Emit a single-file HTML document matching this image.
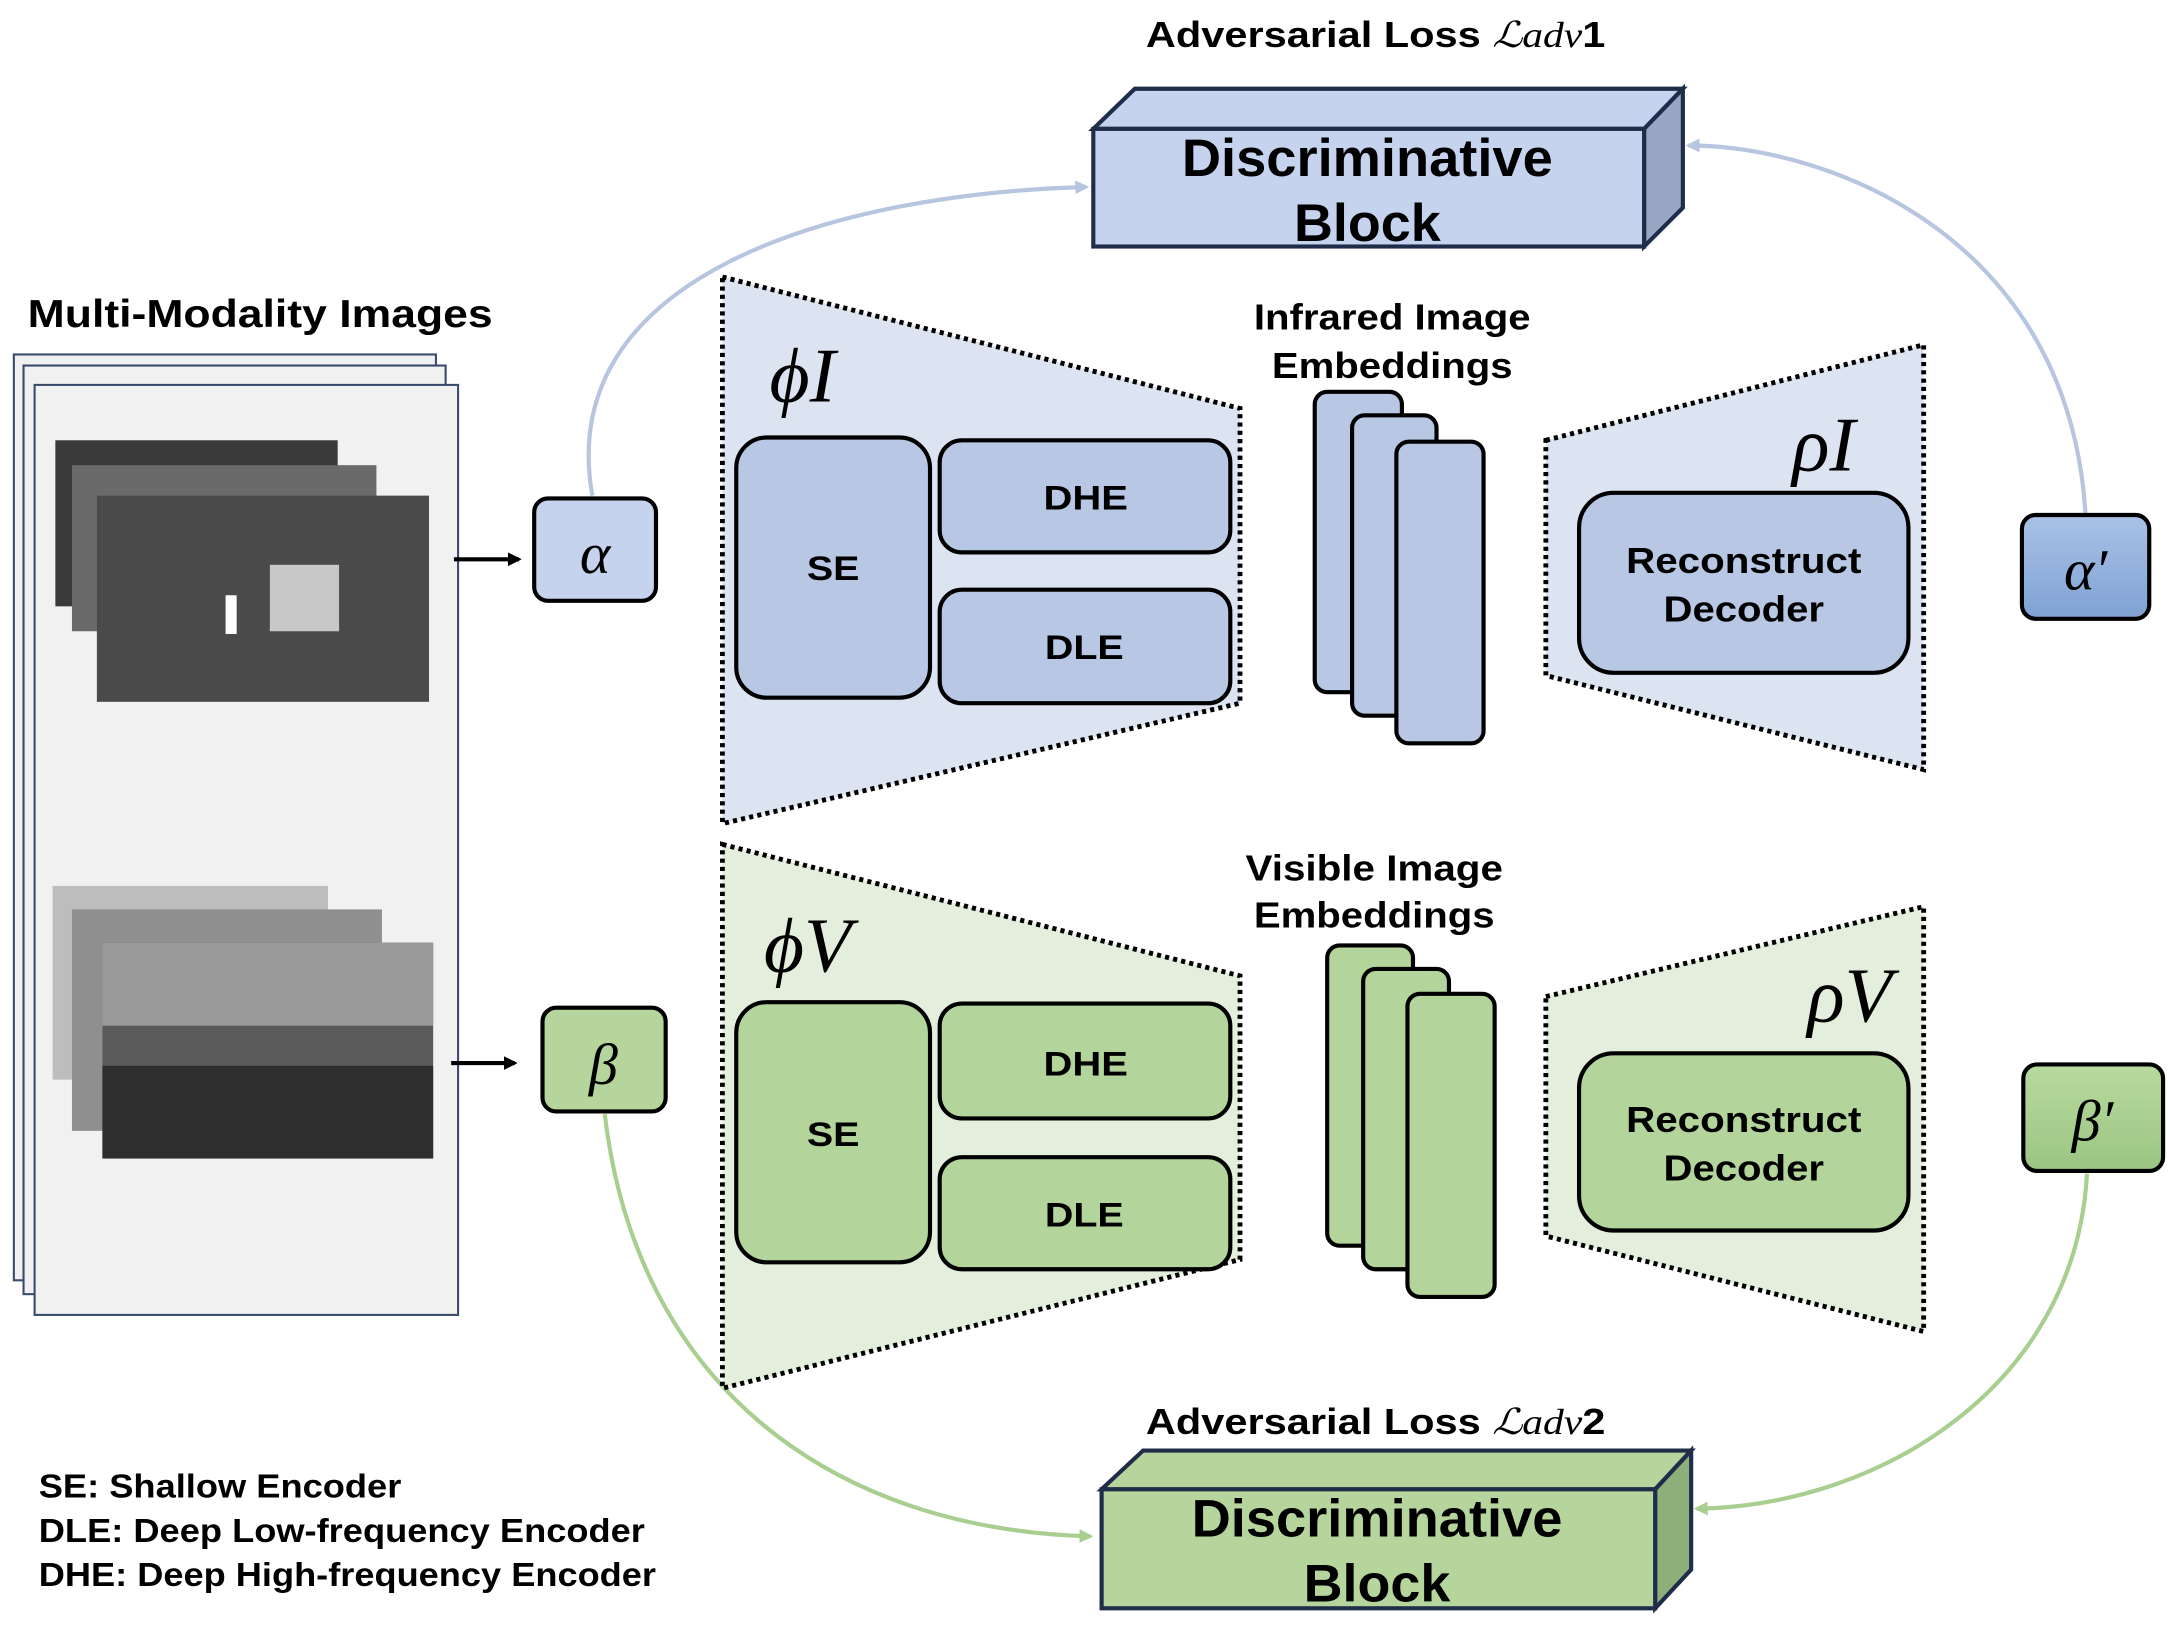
<!DOCTYPE html>
<html><head><meta charset="utf-8"><style>
html,body{margin:0;padding:0;background:#fff;}
svg{display:block;}
.b{font-family:"Liberation Sans",sans-serif;font-weight:bold;fill:#000;}
.m{font-family:"Liberation Serif","DejaVu Serif",serif;font-style:italic;fill:#000;}
</style></head><body>
<svg width="2170" height="1650" viewBox="0 0 1568 1192" xmlns="http://www.w3.org/2000/svg">
<defs>
<marker id="ab" markerWidth="10" markerHeight="10" refX="8" refY="5" orient="auto" markerUnits="userSpaceOnUse"><path d="M0,0 L10,5 L0,10 z" fill="#b7c5e0"/></marker>
<marker id="ag" markerWidth="10" markerHeight="10" refX="8" refY="5" orient="auto" markerUnits="userSpaceOnUse"><path d="M0,0 L10,5 L0,10 z" fill="#a8cf90"/></marker>
<marker id="ak" markerWidth="10" markerHeight="10" refX="8" refY="5" orient="auto" markerUnits="userSpaceOnUse"><path d="M0,0 L10,5 L0,10 z" fill="#000"/></marker>
<linearGradient id="ga" x1="0" y1="0" x2="0" y2="1"><stop offset="0" stop-color="#a9c2e6"/><stop offset="1" stop-color="#7fa2d4"/></linearGradient>
<linearGradient id="gb" x1="0" y1="0" x2="0" y2="1"><stop offset="0" stop-color="#b8da9f"/><stop offset="1" stop-color="#9bc582"/></linearGradient>
</defs>
<rect width="1568" height="1192" fill="#fff"/>

<path d="M428,358 C400,200 600,140 785,135" fill="none" stroke="#b7c5e0" stroke-width="3" marker-end="url(#ab)"/>
<path d="M1507,372 C1495,170 1320,105 1220,105" fill="none" stroke="#b7c5e0" stroke-width="3" marker-end="url(#ab)"/>
<path d="M437,805 C460,1000 600,1105 788,1110" fill="none" stroke="#a8cf90" stroke-width="3" marker-end="url(#ag)"/>
<path d="M1508,848 C1500,1000 1360,1088 1226,1090" fill="none" stroke="#a8cf90" stroke-width="3" marker-end="url(#ag)"/>

<text x="828" y="34" class="b" font-size="26" textLength="332" lengthAdjust="spacingAndGlyphs">Adversarial Loss <tspan class="m" font-weight="normal">ℒadv</tspan>1</text>
<polygon points="790,93 820,64 1216,64 1188,93" fill="#c5d3ee" stroke="#1f2d4a" stroke-width="3"/>
<polygon points="1188,93 1216,64 1216,150 1188,178" fill="#9aa7c4" stroke="#1f2d4a" stroke-width="3"/>
<rect x="790" y="93" width="398" height="85" fill="#c5d3ee" stroke="#1f2d4a" stroke-width="3"/>
<text x="854" y="127" class="b" font-size="38" textLength="268" lengthAdjust="spacingAndGlyphs">Discriminative</text>
<text x="935" y="174" class="b" font-size="38" textLength="106" lengthAdjust="spacingAndGlyphs">Block</text>

<text x="828" y="1036" class="b" font-size="26" textLength="332" lengthAdjust="spacingAndGlyphs">Adversarial Loss <tspan class="m" font-weight="normal">ℒadv</tspan>2</text>
<polygon points="796,1076 826,1048 1222,1048 1196,1076" fill="#b5d59d" stroke="#1f2d4a" stroke-width="3"/>
<polygon points="1196,1076 1222,1048 1222,1134 1196,1162" fill="#8db07a" stroke="#1f2d4a" stroke-width="3"/>
<rect x="796" y="1076" width="400" height="86" fill="#b5d59d" stroke="#1f2d4a" stroke-width="3"/>
<text x="861" y="1110" class="b" font-size="38" textLength="268" lengthAdjust="spacingAndGlyphs">Discriminative</text>
<text x="942" y="1157" class="b" font-size="38" textLength="106" lengthAdjust="spacingAndGlyphs">Block</text>

<text x="20" y="236" class="b" font-size="28" textLength="336" lengthAdjust="spacingAndGlyphs">Multi-Modality Images</text>
<rect x="10" y="256" width="305" height="669" fill="#f1f1f1" stroke="#3a4a6a" stroke-width="1.5"/>
<rect x="17" y="264" width="305" height="671" fill="#f1f1f1" stroke="#3a4a6a" stroke-width="1.5"/>
<rect x="25" y="278" width="306" height="672" fill="#f1f1f1" stroke="#3a4a6a" stroke-width="1.5"/>
<rect x="40" y="318" width="204" height="120" fill="#3a3a3a"/>
<rect x="52" y="336" width="220" height="120" fill="#6a6a6a"/>
<rect x="70" y="358" width="240" height="149" fill="#4a4a4a"/>
<rect x="195" y="408" width="50" height="48" fill="#c8c8c8"/>
<rect x="163" y="430" width="8" height="28" fill="#fff"/>
<rect x="38" y="640" width="199" height="140" fill="#bdbdbd"/>
<rect x="52" y="657" width="224" height="160" fill="#8f8f8f"/>
<rect x="74" y="681" width="239" height="156" fill="#5a5a5a"/>
<rect x="74" y="681" width="239" height="60" fill="#9a9a9a"/>
<rect x="74" y="770" width="239" height="67" fill="#2e2e2e"/>
<line x1="328" y1="404" x2="375" y2="404" stroke="#000" stroke-width="3" marker-end="url(#ak)"/>
<line x1="326" y1="768" x2="372" y2="768" stroke="#000" stroke-width="3" marker-end="url(#ak)"/>

<rect x="386" y="360" width="88" height="74" rx="10" fill="#c5d3ee" stroke="#000" stroke-width="3"/>
<text x="430" y="414" text-anchor="middle" class="m" font-size="42">α</text>
<rect x="392" y="728" width="89" height="75" rx="10" fill="#b5d59d" stroke="#000" stroke-width="3"/>
<text x="436" y="783" text-anchor="middle" class="m" font-size="42">β</text>
<rect x="1461" y="372" width="92" height="75" rx="10" fill="url(#ga)" stroke="#000" stroke-width="3"/>
<text x="1507" y="426" text-anchor="middle" class="m" font-size="42">α′</text>
<rect x="1462" y="769" width="101" height="77" rx="10" fill="url(#gb)" stroke="#000" stroke-width="3"/>
<text x="1512" y="824" text-anchor="middle" class="m" font-size="42">β′</text>

<polygon points="522,200 896,295 896,508 522,595" fill="#dde4f1" stroke="#000" stroke-width="3.5" stroke-dasharray="3,3"/>
<text x="556" y="290" class="m" font-size="56">ϕI</text>
<rect x="532" y="316" width="140" height="188" rx="22" fill="#b8c7e4" stroke="#000" stroke-width="3"/>
<text x="583" y="419" class="b" font-size="25" textLength="38" lengthAdjust="spacingAndGlyphs">SE</text>
<rect x="679" y="318" width="210" height="81" rx="16" fill="#b8c7e4" stroke="#000" stroke-width="3"/>
<text x="754" y="368" class="b" font-size="25" textLength="61" lengthAdjust="spacingAndGlyphs">DHE</text>
<rect x="679" y="426" width="210" height="82" rx="16" fill="#b8c7e4" stroke="#000" stroke-width="3"/>
<text x="755" y="476" class="b" font-size="25" textLength="57" lengthAdjust="spacingAndGlyphs">DLE</text>

<text x="906" y="238" class="b" font-size="26" textLength="200" lengthAdjust="spacingAndGlyphs">Infrared Image</text>
<text x="919" y="273" class="b" font-size="26" textLength="174" lengthAdjust="spacingAndGlyphs">Embeddings</text>
<rect x="950" y="283" width="63" height="217" rx="9" fill="#b8c7e4" stroke="#000" stroke-width="3"/>
<rect x="977" y="300" width="61" height="217" rx="9" fill="#b8c7e4" stroke="#000" stroke-width="3"/>
<rect x="1009" y="319" width="63" height="218" rx="9" fill="#b8c7e4" stroke="#000" stroke-width="3"/>

<polygon points="1117,318 1390,249 1390,556 1117,488" fill="#dde4f1" stroke="#000" stroke-width="3.5" stroke-dasharray="3,3"/>
<text x="1295" y="340" class="m" font-size="56">ρI</text>
<rect x="1141" y="356" width="238" height="130" rx="25" fill="#b8c7e4" stroke="#000" stroke-width="3"/>
<text x="1175" y="414" class="b" font-size="26" textLength="170" lengthAdjust="spacingAndGlyphs">Reconstruct</text>
<text x="1202" y="449" class="b" font-size="26" textLength="116" lengthAdjust="spacingAndGlyphs">Decoder</text>

<polygon points="522,610 896,705 896,910 522,1003" fill="#e3efdc" stroke="#000" stroke-width="3.5" stroke-dasharray="3,3"/>
<text x="552" y="702" class="m" font-size="56">ϕV</text>
<rect x="532" y="724" width="140" height="188" rx="22" fill="#b3d59c" stroke="#000" stroke-width="3"/>
<text x="583" y="828" class="b" font-size="25" textLength="38" lengthAdjust="spacingAndGlyphs">SE</text>
<rect x="679" y="725" width="210" height="83" rx="16" fill="#b3d59c" stroke="#000" stroke-width="3"/>
<text x="754" y="777" class="b" font-size="25" textLength="61" lengthAdjust="spacingAndGlyphs">DHE</text>
<rect x="679" y="836" width="210" height="81" rx="16" fill="#b3d59c" stroke="#000" stroke-width="3"/>
<text x="755" y="886" class="b" font-size="25" textLength="57" lengthAdjust="spacingAndGlyphs">DLE</text>

<text x="900" y="636" class="b" font-size="26" textLength="186" lengthAdjust="spacingAndGlyphs">Visible Image</text>
<text x="906" y="670" class="b" font-size="26" textLength="174" lengthAdjust="spacingAndGlyphs">Embeddings</text>
<rect x="959" y="683" width="62" height="217" rx="9" fill="#b3d59c" stroke="#000" stroke-width="3"/>
<rect x="985" y="700" width="62" height="217" rx="9" fill="#b3d59c" stroke="#000" stroke-width="3"/>
<rect x="1017" y="718" width="63" height="219" rx="9" fill="#b3d59c" stroke="#000" stroke-width="3"/>

<polygon points="1117,720 1390,655 1390,962 1117,893" fill="#e3efdc" stroke="#000" stroke-width="3.5" stroke-dasharray="3,3"/>
<text x="1306" y="738" class="m" font-size="56">ρV</text>
<rect x="1141" y="761" width="238" height="128" rx="25" fill="#b3d59c" stroke="#000" stroke-width="3"/>
<text x="1175" y="818" class="b" font-size="26" textLength="170" lengthAdjust="spacingAndGlyphs">Reconstruct</text>
<text x="1202" y="853" class="b" font-size="26" textLength="116" lengthAdjust="spacingAndGlyphs">Decoder</text>

<text x="28" y="1082" class="b" font-size="24" textLength="262" lengthAdjust="spacingAndGlyphs">SE: Shallow Encoder</text>
<text x="28" y="1114" class="b" font-size="24" textLength="438" lengthAdjust="spacingAndGlyphs">DLE: Deep Low-frequency Encoder</text>
<text x="28" y="1146" class="b" font-size="24" textLength="446" lengthAdjust="spacingAndGlyphs">DHE: Deep High-frequency Encoder</text>
</svg>
</body></html>
